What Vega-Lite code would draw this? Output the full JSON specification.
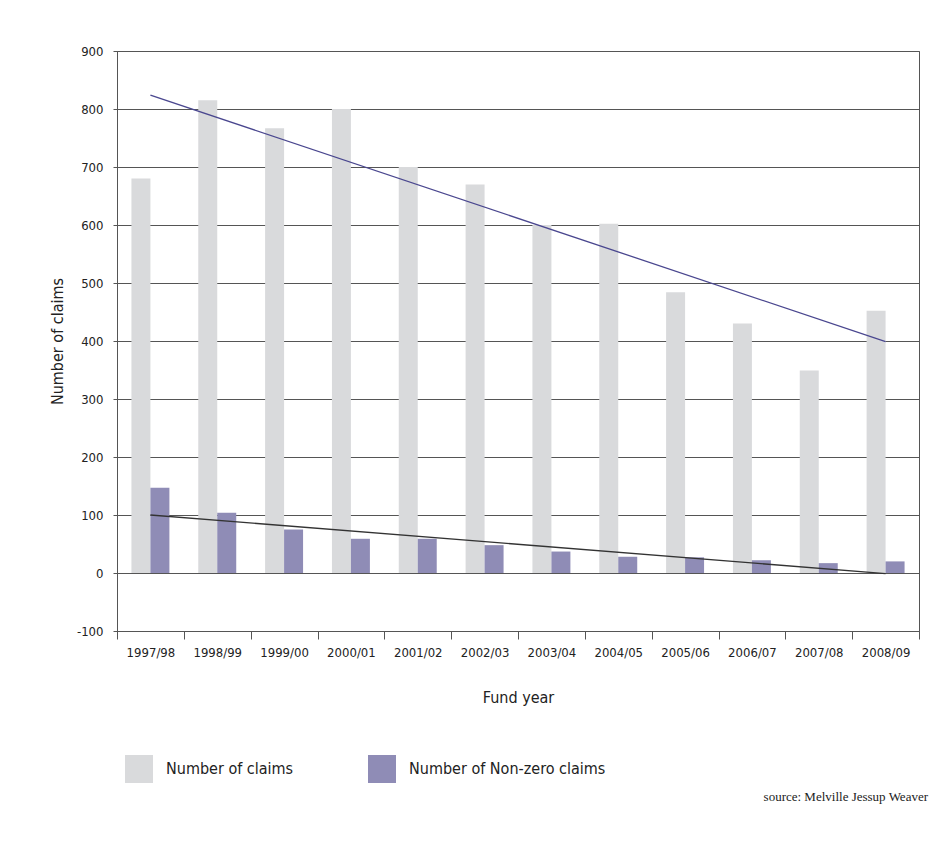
{
  "$schema": "https://vega.github.io/schema/vega-lite/v6.json",
  "width": 802,
  "height": 580,
  "autosize": "none",
  "padding": {"left": 117, "top": 51, "right": 16, "bottom": 213},
  "background": "white",
  "config": {
    "view": {"stroke": "#555555", "strokeWidth": 1},
    "font": "'Liberation Sans Narrow', 'DejaVu Sans Condensed', sans-serif"
  },
  "datasets": {
    "bars": [
      {"year": "1997/98", "series": "Number of claims", "value": 680},
      {"year": "1998/99", "series": "Number of claims", "value": 815},
      {"year": "1999/00", "series": "Number of claims", "value": 767},
      {"year": "2000/01", "series": "Number of claims", "value": 800},
      {"year": "2001/02", "series": "Number of claims", "value": 700},
      {"year": "2002/03", "series": "Number of claims", "value": 670},
      {"year": "2003/04", "series": "Number of claims", "value": 600},
      {"year": "2004/05", "series": "Number of claims", "value": 602},
      {"year": "2005/06", "series": "Number of claims", "value": 484},
      {"year": "2006/07", "series": "Number of claims", "value": 430},
      {"year": "2007/08", "series": "Number of claims", "value": 349},
      {"year": "2008/09", "series": "Number of claims", "value": 452},
      {"year": "1997/98", "series": "Number of Non-zero claims", "value": 147},
      {"year": "1998/99", "series": "Number of Non-zero claims", "value": 104},
      {"year": "1999/00", "series": "Number of Non-zero claims", "value": 75},
      {"year": "2000/01", "series": "Number of Non-zero claims", "value": 59},
      {"year": "2001/02", "series": "Number of Non-zero claims", "value": 59},
      {"year": "2002/03", "series": "Number of Non-zero claims", "value": 48},
      {"year": "2003/04", "series": "Number of Non-zero claims", "value": 37},
      {"year": "2004/05", "series": "Number of Non-zero claims", "value": 28},
      {"year": "2005/06", "series": "Number of Non-zero claims", "value": 27},
      {"year": "2006/07", "series": "Number of Non-zero claims", "value": 22},
      {"year": "2007/08", "series": "Number of Non-zero claims", "value": 17},
      {"year": "2008/09", "series": "Number of Non-zero claims", "value": 20}
    ],
    "trend": [
      {"year": "1997/98", "series": "claims", "value": 824},
      {"year": "2008/09", "series": "claims", "value": 399},
      {"year": "1997/98", "series": "nonzero", "value": 100},
      {"year": "2008/09", "series": "nonzero", "value": -1}
    ]
  },
  "title": {
    "text": "source: Melville Jessup Weaver",
    "orient": "bottom",
    "anchor": "end",
    "frame": "group",
    "font": "'Liberation Serif', serif",
    "fontSize": 13,
    "fontWeight": "normal",
    "color": "#222222",
    "offset": 8,
    "dx": 9
  },
  "layer": [
    {
      "data": {"name": "bars"},
      "mark": {"type": "bar"},
      "encoding": {
        "x": {
          "field": "year",
          "type": "nominal",
          "sort": null,
          "scale": {"paddingInner": 0, "paddingOuter": 0},
          "axis": {
            "title": "Fund year",
            "titleFontSize": 16,
            "titleFontWeight": "normal",
            "titleColor": "#222222",
            "titlePadding": 30,
            "labelAngle": 0,
            "labelFontSize": 13,
            "labelColor": "#222222",
            "labelPadding": 7,
            "tickBand": "extent",
            "tickSize": 8,
            "tickColor": "#555555",
            "domainColor": "#555555",
            "grid": false
          }
        },
        "xOffset": {
          "field": "series",
          "type": "nominal",
          "sort": ["Number of claims", "Number of Non-zero claims"],
          "scale": {"paddingOuter": 0.76, "paddingInner": 0}
        },
        "y": {
          "field": "value",
          "type": "quantitative",
          "scale": {"domain": [-100, 900], "nice": false, "zero": false},
          "axis": {
            "title": "Number of claims",
            "titleFontSize": 16,
            "titleFontWeight": "normal",
            "titleColor": "#222222",
            "titlePadding": 11,
            "values": [-100, 0, 100, 200, 300, 400, 500, 600, 700, 800, 900],
            "labelExpr": "replace(datum.label, '\u2212', '-')",
            "labelFontSize": 13,
            "labelColor": "#222222",
            "labelPadding": 10,
            "tickSize": 4,
            "tickColor": "#555555",
            "domainColor": "#555555",
            "grid": true,
            "gridColor": "#555555",
            "gridOpacity": 1
          }
        },
        "color": {
          "field": "series",
          "type": "nominal",
          "scale": {
            "domain": ["Number of claims", "Number of Non-zero claims"],
            "range": ["#d9dadc", "#8f8cb6"]
          },
          "legend": {
            "title": null,
            "orient": "none",
            "direction": "horizontal",
            "legendX": 8,
            "legendY": 704,
            "symbolType": "square",
            "symbolSize": 784,
            "symbolStrokeWidth": 0,
            "symbolOpacity": 1,
            "labelFontSize": 16,
            "labelColor": "#222222",
            "labelOffset": 13,
            "labelLimit": 0,
            "columnPadding": 74
          }
        }
      }
    },
    {
      "data": {"name": "trend"},
      "transform": [{"filter": "datum.series === 'claims'"}],
      "mark": {"type": "line", "color": "#4a478f", "strokeWidth": 1.3},
      "encoding": {
        "x": {"field": "year", "type": "nominal", "sort": null},
        "y": {"field": "value", "type": "quantitative"}
      }
    },
    {
      "data": {"name": "trend"},
      "transform": [{"filter": "datum.series === 'nonzero'"}],
      "mark": {"type": "line", "color": "#333333", "strokeWidth": 1.3},
      "encoding": {
        "x": {"field": "year", "type": "nominal", "sort": null},
        "y": {"field": "value", "type": "quantitative"}
      }
    }
  ]
}
